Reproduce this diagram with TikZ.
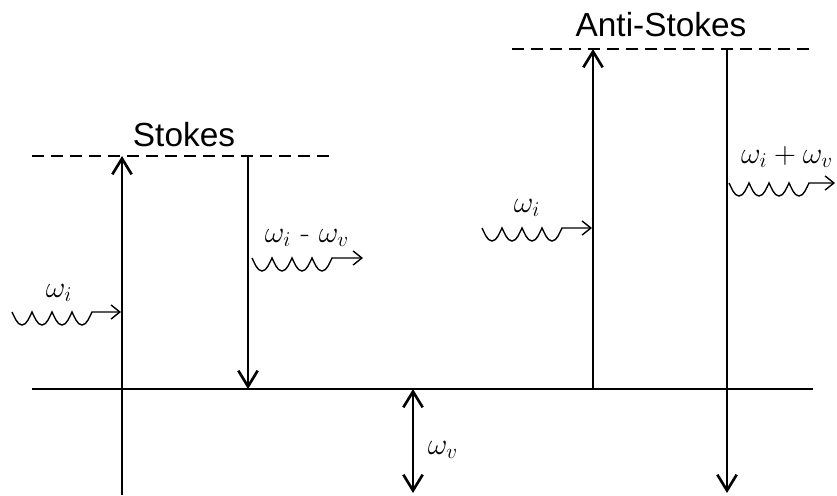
\documentclass[tikz,border=0pt]{standalone}
\usepackage{fontspec}
\setsansfont{Liberation Sans}
\usepackage{tikz}
\usetikzlibrary{arrows.meta,positioning}

\begin{document}
\begin{tikzpicture}[
    x=0.02cm, y=-0.02cm,
    lvl/.style={line width=1.1pt},
    vlvl/.style={line width=0.7pt, dash pattern=on 6.8pt off 4pt},
    arr/.style={line width=1.5pt, -{Straight Barb[length=9pt,width=11pt]}},
    dbl/.style={line width=1.5pt, {Straight Barb[length=9pt,width=11pt]}-{Straight Barb[length=9pt,width=11pt]}},
    wv/.style={line width=0.8pt, -{Straight Barb[length=5pt,width=8pt]}},
    lbl/.style={font=\fontsize{17.28}{20}\selectfont},
    ttl/.style={font=\sffamily\fontsize{19}{22}\selectfont}
]
    \useasboundingbox (0,0) rectangle (837,495);

    % levels
    \coordinate (g1) at (32,389);
    \coordinate (g2) at (813,389);
    \coordinate (s1) at (32,156);
    \coordinate (s2) at (330,156);
    \coordinate (a1) at (512,49);
    \coordinate (a2) at (810,49);

    % transition ends
    \coordinate (sb) at (122,495);
    \coordinate (st) at (122,156);
    \coordinate (sd) at (248,156);
    \coordinate (sg) at (248,389);
    \coordinate (ag) at (593,389);
    \coordinate (at) at (593,49);
    \coordinate (ad) at (727,49);
    \coordinate (ab) at (727,493);
    \coordinate (vg) at (413,389);
    \coordinate (vb) at (413,493);

    % photons
    \coordinate (w1) at (12,312);
    \coordinate (t1) at (121,312);
    \coordinate (w2) at (252,258);
    \coordinate (t2) at (363,258);
    \coordinate (w3) at (482,228);
    \coordinate (t3) at (592,228);
    \coordinate (w4) at (729,183);
    \coordinate (t4) at (835,183);

    \draw [lvl] (g1) -- (g2);
    \draw [vlvl] (s1) -- (s2);
    \draw [vlvl] (a1) -- (a2);

    \draw [arr] (sb) -- (st);
    \draw [arr] (sd) -- (sg);
    \draw [arr] (ag) -- (at);
    \draw [arr] (ad) -- (ab);
    \draw [dbl] (vg) -- (vb);

    \foreach \a/\b in {w1/t1, w2/t2, w3/t3, w4/t4}
        \draw [wv] (\a) \foreach \k in {1,...,4} {
            .. controls +(2.2,4) and +(-5,0) .. ++(10,13)
            .. controls +(5,0) and +(-2.2,4) .. ++(10,-13)} -- (\b);

    \node [ttl] (stk) at (184,135) {Stokes};
    \node [ttl] (astk) at (661,25) {Anti-Stokes};
    \node [lbl] (l1) at (59,293) {$\omega_i$};
    \node [lbl] (l2) at (307,238) {$\omega_i$ - $\omega_v$};
    \node [lbl] (l3) at (527,208) {$\omega_i$};
    \node [lbl] (l4) at (787,157) {$\omega_i + \omega_v$};
    \node [lbl] (l5) at (443,450) {$\omega_v$};
\end{tikzpicture}
\end{document}
